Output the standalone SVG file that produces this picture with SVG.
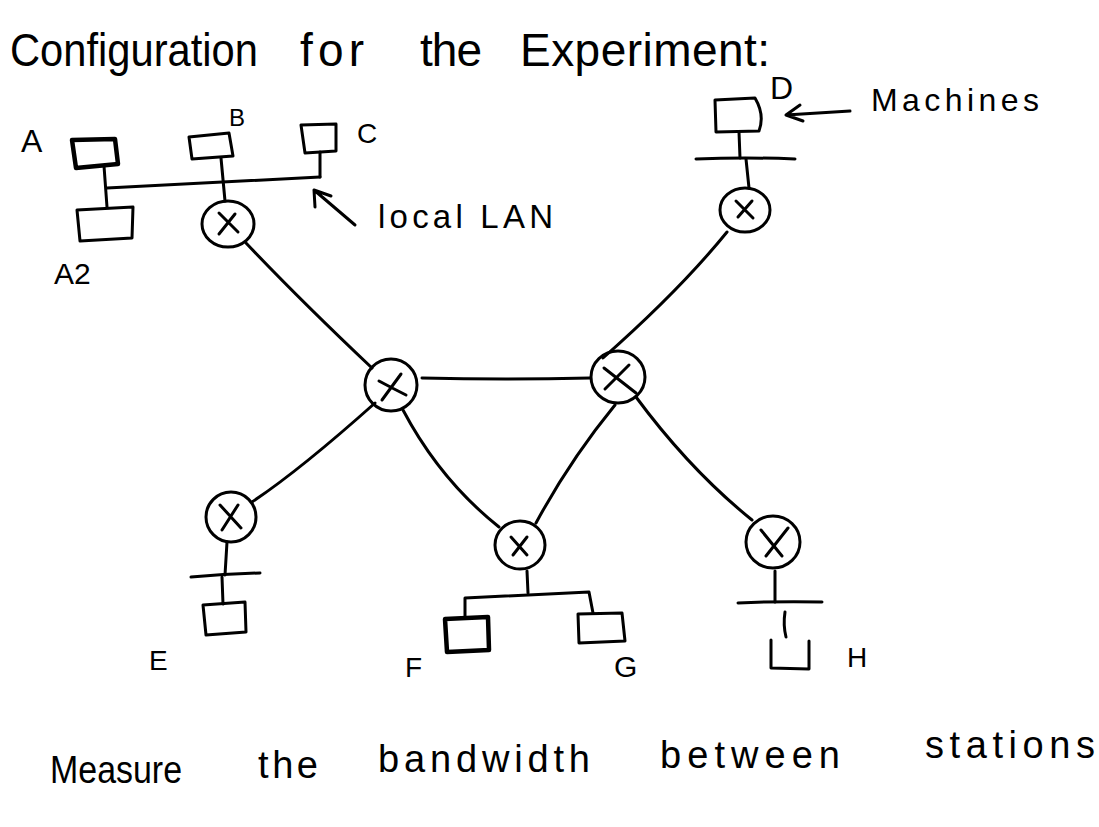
<svg xmlns="http://www.w3.org/2000/svg" width="1099" height="827" viewBox="0 0 1099 827">
<style>
.s{fill:none;stroke:#000;stroke-width:3;stroke-linecap:round;stroke-linejoin:round}
.b{fill:none;stroke:#000;stroke-width:4.5;stroke-linejoin:round}
.t{font-family:"Liberation Sans","DejaVu Sans",sans-serif;fill:#000}
</style>
<rect width="1099" height="827" fill="#fff"/>
<g id="title">
<text class="t" font-size="46" y="66"><tspan x="10" textLength="248" lengthAdjust="spacingAndGlyphs">Configuration</tspan><tspan x="300" textLength="64" lengthAdjust="spacing">for</tspan><tspan x="420" textLength="62" lengthAdjust="spacing">the</tspan><tspan x="520" textLength="250" lengthAdjust="spacing">Experiment:</tspan></text>
</g>
<g id="connectors">
<path class="s" d="M107 188 L320 177"/>
<path class="s" d="M104 166 L107 207"/>
<path class="s" d="M221 158 L225 201"/>
<path class="s" d="M320 152 L320 177"/>
<path class="s" d="M246 243 Q300 300 372 368"/>
<path class="s" d="M739 132 L740 158"/>
<path class="s" d="M696 159 Q745 157 795 159"/>
<path class="s" d="M746 159 L749 188"/>
<path class="s" d="M727 232 Q680 290 603 358"/>
<path class="s" d="M422 378 Q505 380 590 378"/>
<path class="s" d="M375 403 Q300 470 252 502"/>
<path class="s" d="M403 410 Q440 480 499 527"/>
<path class="s" d="M615 405 Q570 460 536 523"/>
<path class="s" d="M636 397 Q690 470 752 520"/>
<path class="s" d="M227 542 L225 575"/>
<path class="s" d="M191 577 Q225 574 260 573"/>
<path class="s" d="M222 577 L223 604"/>
<path class="s" d="M527 571 L528 593"/>
<path class="s" d="M465 617 L465 598 L589 592 L593 613"/>
<path class="s" d="M775 571 L775 602"/>
<path class="s" d="M738 603 Q780 601 822 602"/>
<path class="s" d="M785 612 Q783 625 786 637"/>
</g>
<g id="A"><path class="b" d="M72 140 L115 139 L118 164 L76 168 Z"/><text class="t" font-size="32" x="21" y="152">A</text></g>
<g id="A2"><path class="s" d="M77 210 L133 207 L132 238 L80 241 Z"/><text class="t" font-size="30" x="54" y="284">A2</text></g>
<g id="B"><path class="s" d="M189 137 L229 133 L233 156 L192 159 Z"/><text class="t" font-size="24" x="229" y="126">B</text></g>
<g id="C"><path class="s" d="M301 125 L336 124 L336 151 L305 153 Z"/><text class="t" font-size="28" x="357" y="143">C</text></g>
<g id="D"><path class="s" d="M715 100 L755 98 Q765 115 759 131 L716 132 Z"/><text class="t" font-size="32" x="770" y="99">D</text></g>
<g id="E"><path class="s" d="M203 605 L245 602 L246 632 L206 635 Z"/><text class="t" font-size="28" x="149" y="670">E</text></g>
<g id="F"><path class="b" d="M445 619 L488 617 L489 650 L447 652 Z"/><text class="t" font-size="28" x="405" y="677">F</text></g>
<g id="G"><path class="s" d="M578 614 L622 613 L625 641 L579 643 Z"/><text class="t" font-size="30" x="614" y="677">G</text></g>
<g id="H"><path class="s" d="M771 640 L771 668 L809 669 L809 641"/><text class="t" font-size="28" x="847" y="667">H</text></g>
<g id="R1"><ellipse class="s" cx="228" cy="224" rx="26" ry="23"/><path class="s" d="M219 213 L238 232 M235 214 L219 234"/></g>
<g id="RD"><ellipse class="s" cx="745" cy="210" rx="25" ry="22"/><path class="s" d="M736 201 L753 218 M752 201 L738 217"/></g>
<g id="RCL"><ellipse class="s" cx="391" cy="385" rx="26" ry="26"/><path class="s" d="M379 381 Q392 388 406 395 M401 374 L382 400"/></g>
<g id="RCR"><ellipse class="s" cx="618" cy="377" rx="27" ry="26"/><path class="s" d="M604 368 L636 393 M629 365 L605 389"/></g>
<g id="RE"><ellipse class="s" cx="231" cy="517" rx="25" ry="25"/><path class="s" d="M220 505 L241 528 M238 505 L222 530"/></g>
<g id="RF"><ellipse class="s" cx="520" cy="545" rx="25" ry="24"/><path class="s" d="M511 537 L527 555 M527 537 L513 555"/></g>
<g id="RH"><ellipse class="s" cx="773" cy="542" rx="27" ry="26"/><path class="s" d="M761 530 L782 556 M788 528 L766 556"/></g>
<g id="annotations">
<path class="s" d="M355 225 L314 190 M314 190 L331 196 M314 190 L315 207"/>
<text class="t" font-size="33" x="378" y="228" textLength="175" lengthAdjust="spacing">local LAN</text>
<path class="s" d="M850 111 L786 115 M786 115 L800 105 M786 115 L803 121"/>
<text class="t" font-size="32" x="871" y="111" textLength="168" lengthAdjust="spacing">Machines</text>
<text class="t" font-size="38"><tspan x="50" y="783" textLength="132" lengthAdjust="spacingAndGlyphs">Measure</tspan><tspan x="258" y="778" textLength="60" lengthAdjust="spacing">the</tspan><tspan x="378" y="772" textLength="212" lengthAdjust="spacing">bandwidth</tspan><tspan x="660" y="768" textLength="180" lengthAdjust="spacing">between</tspan><tspan x="925" y="758" textLength="170" lengthAdjust="spacing">stations</tspan></text>
</g>
</svg>
